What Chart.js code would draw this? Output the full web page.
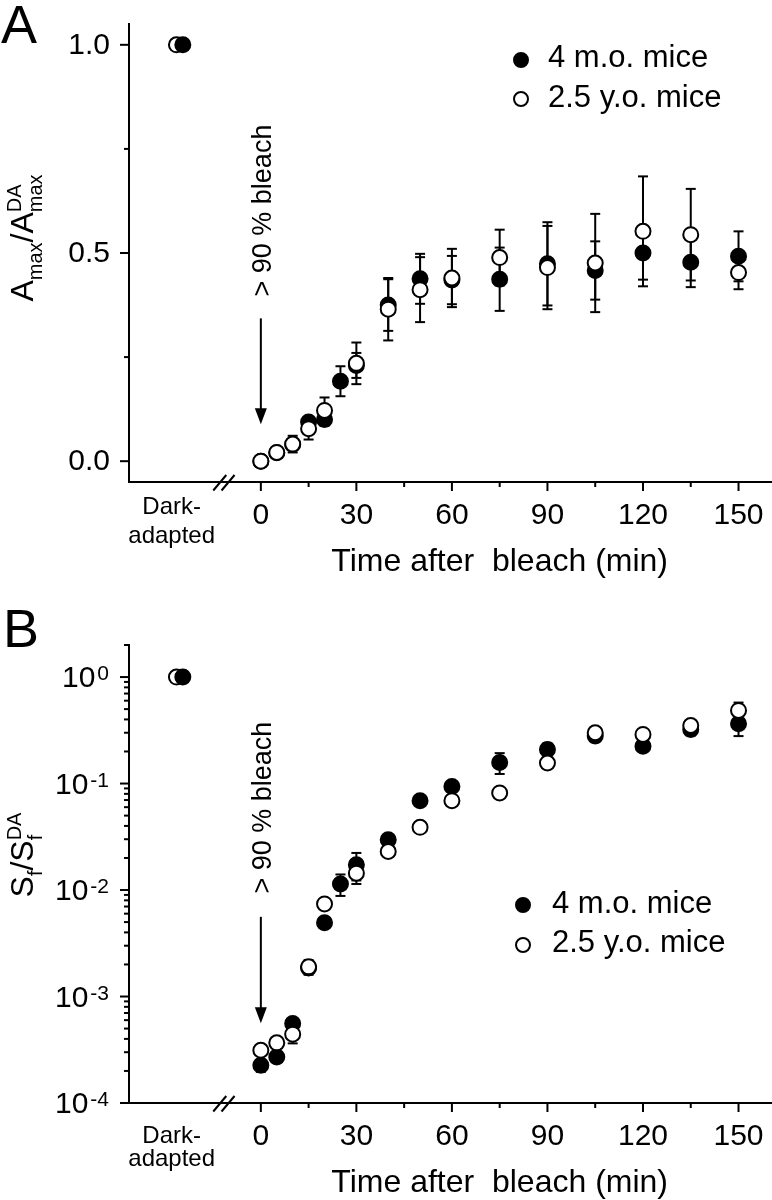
<!DOCTYPE html>
<html>
<head>
<meta charset="utf-8">
<title>Recovery of Amax and Sf after bleach</title>
<script src="https://cdn.jsdelivr.net/npm/chart.js@4.4.0/dist/chart.umd.min.js"></script>
<style>
  html, body { margin: 0; padding: 0; background: #fff; }
  canvas { display: block; }
</style>
</head>
<body>
<canvas id="panel-a" width="772" height="600"></canvas>
<canvas id="panel-b" width="772" height="600"></canvas>
<script>
// ---- data ----
const times = [0, 5, 10, 15, 20, 25, 30, 40, 50, 60, 75, 90, 105, 120, 135, 150];
const seriesNames = ['4 m.o. mice', '2.5 y.o. mice'];

// Panel A: Amax / Amax(DA), mean and SEM
const ampYoung    = [0.0, 0.02, 0.04, 0.094, 0.10, 0.192, 0.23, 0.375, 0.438, 0.435, 0.437, 0.474, 0.458, 0.50, 0.478, 0.492];
const ampYoungErr = [0.005, 0.005, 0.01, 0.01, 0.015, 0.036, 0.03, 0.062, 0.06, 0.058, 0.076, 0.10, 0.07, 0.064, 0.06, 0.06];
const ampOld      = [0.0, 0.021, 0.041, 0.078, 0.122, null, 0.235, 0.365, 0.412, 0.44, 0.489, 0.465, 0.476, 0.552, 0.544, 0.453];
const ampOldErr   = [0.005, 0.008, 0.02, 0.026, 0.031, null, 0.05, 0.075, 0.078, 0.07, 0.067, 0.10, 0.118, 0.132, 0.11, 0.04];

// Panel B: Sf / Sf(DA), mean and SEM
const sensYoung    = [2.26e-4, 2.71e-4, 5.58e-4, 1.85e-3, 4.94e-3, 1.14e-2, 1.73e-2, 2.97e-2, 6.9e-2, 9.4e-2, 0.158, 0.209, 0.28, 0.224, 0.322, 0.364];
const sensYoungErr = [0.3e-4, 0.3e-4, 0.6e-4, 0.15e-3, 0.4e-3, 0.26e-2, 0.5e-2, 0.3e-2, 0.7e-2, 1.0e-2, 0.035, 0.03, 0.035, 0.025, 0.04, 0.085];
const sensOld      = [3.13e-4, 3.67e-4, 4.43e-4, 1.9e-3, 7.4e-3, null, 1.44e-2, 2.3e-2, 3.88e-2, 6.9e-2, 0.0817, 0.156, 0.30, 0.289, 0.351, 0.486];
const sensOldErr   = [0.2e-4, 0.3e-4, 0.8e-4, 0.3e-3, 0.5e-3, null, 0.3e-2, 0.2e-2, 0.3e-2, 0.5e-2, 0.006, 0.01, 0.03, 0.02, 0.03, 0.09];

// dark-adapted reference (normalised)
const darkYoung = 1.0;
const darkOld = 1.0;

// ticks
const xTicks = [0, 30, 60, 90, 120, 150];
const xMinorTicks = [15, 45, 75, 105, 135];
const ampTicks = [0, 0.5, 1.0];
const ampMinorTicks = [0.25, 0.75];
const sensTicks = [1e-4, 1e-3, 1e-2, 1e-1, 1];

// ---- drawing helpers ----
const FAMILY = '"Liberation Sans", Arial, Helvetica, sans-serif';
const font = s => s + 'px ' + FAMILY;
const DARK_X = -25.5; // where the dark-adapted column sits on the time axis
const MARK_R = 7.5;

function line(ctx, x1, y1, x2, y2) {
    ctx.beginPath();
    ctx.moveTo(x1, y1);
    ctx.lineTo(x2, y2);
    ctx.stroke();
}

function points(xs, ys, errs) {
    return xs.map((t, i) => ({ x: t, y: ys[i], err: errs[i] })).filter(p => p.y !== null);
}

function buildDatasets(young, youngErr, old, oldErr, dY, dO) {
    const filled = { showLine: false, pointRadius: MARK_R, pointHoverRadius: MARK_R, pointBorderWidth: 2,
        pointBackgroundColor: '#000', pointBorderColor: '#000' };
    const open = { showLine: false, pointRadius: MARK_R, pointHoverRadius: MARK_R, pointBorderWidth: 2,
        pointBackgroundColor: '#fff', pointBorderColor: '#000' };
    return [
        { label: seriesNames[0] + ' (DA)', data: [{ x: DARK_X + 1, y: dY }], order: 0, ...filled },
        { label: seriesNames[1], data: points(times, old, oldErr), order: 1, ...open },
        { label: seriesNames[1] + ' (DA)', data: [{ x: DARK_X - 1, y: dO }], order: 2, ...open },
        { label: seriesNames[0], data: points(times, young, youngErr), order: 3, ...filled }
    ];
}

// error bars go under the symbols
const errorBars = {
    id: 'errorBars',
    beforeDatasetsDraw(chart) {
        const { ctx, scales: { x, y } } = chart;
        ctx.save();
        ctx.strokeStyle = '#000';
        ctx.lineWidth = 2;
        chart.data.datasets.forEach(ds => {
            ds.data.forEach(p => {
                if (!p.err) return;
                const px = x.getPixelForValue(p.x);
                const top = y.getPixelForValue(p.y + p.err);
                const bot = y.getPixelForValue(Math.max(p.y - p.err, y.min));
                line(ctx, px, top, px, bot);
                line(ctx, px - 5, top, px + 5, top);
                line(ctx, px - 5, bot, px + 5, bot);
            });
        });
        ctx.restore();
    }
};

// text with subscripts / superscripts, rotated to read upwards
function drawRotatedRich(ctx, baseX, centerY, runs) {
    const widthOf = r => {
        ctx.font = font(r.size);
        let w = ctx.measureText(r.t).width;
        if (r.sup) {
            ctx.font = font(r.supSize);
            w = Math.max(w, ctx.measureText(r.sup).width);
        }
        return w;
    };
    const total = runs.reduce((s, r) => s + widthOf(r), 0);
    ctx.save();
    ctx.translate(baseX, centerY);
    ctx.rotate(-Math.PI / 2);
    ctx.textAlign = 'left';
    ctx.textBaseline = 'alphabetic';
    let cx = -total / 2;
    runs.forEach(r => {
        const w = widthOf(r);
        ctx.font = font(r.size);
        ctx.fillText(r.t, cx, r.dy || 0);
        if (r.sup) {
            ctx.font = font(r.supSize);
            ctx.fillText(r.sup, cx, r.supDy);
        }
        cx += w;
    });
    ctx.restore();
}

function makeDecor(cfg) {
    return {
        id: 'decor',
        afterDraw(chart) {
            const { ctx, chartArea: area, scales: { x, y } } = chart;
            ctx.save();
            ctx.fillStyle = '#000';
            ctx.strokeStyle = '#000';
            ctx.lineWidth = 2;

            // panel letter
            ctx.font = font(54);
            ctx.textAlign = 'left';
            ctx.textBaseline = 'alphabetic';
            ctx.fillText(cfg.letter, cfg.letterX, cfg.letterY);

            // x axis ticks + labels
            const xb = area.bottom;
            xTicks.forEach(v => { const px = x.getPixelForValue(v); line(ctx, px, xb, px, xb + 9); });
            xMinorTicks.forEach(v => { const px = x.getPixelForValue(v); line(ctx, px, xb, px, xb + 5); });
            ctx.font = font(30);
            ctx.textAlign = 'center';
            xTicks.forEach(v => ctx.fillText(String(v), x.getPixelForValue(v), xb + 42));

            // axis break marks
            [-12.9, -10.3].forEach(v => {
                const px = x.getPixelForValue(v);
                line(ctx, px - 6.5, xb + 8.5, px + 6.5, xb - 7);
            });

            // dark-adapted column label
            ctx.font = font(24);
            const dx = x.getPixelForValue(DARK_X - 2.5);
            ctx.fillText('Dark-', dx, xb + cfg.darkDy[0]);
            ctx.fillText('adapted', dx, xb + cfg.darkDy[1]);

            // x title
            ctx.font = font(32);
            ctx.fillText('Time after  bleach (min)', x.getPixelForValue(75), xb + 89);

            // y ticks
            const yl = area.left;
            cfg.yMajor.forEach(v => { const py = y.getPixelForValue(v); line(ctx, yl - 9, py, yl, py); });
            cfg.yMinor.forEach(v => { const py = y.getPixelForValue(v); line(ctx, yl - 5, py, yl, py); });
            cfg.yMajor.forEach(v => cfg.tickLabel(ctx, v, yl - 20, y.getPixelForValue(v)));

            // y title
            drawRotatedRich(ctx, 33, cfg.yTitleY, cfg.yTitle);

            // bleach arrow and note
            const ax = x.getPixelForValue(0);
            const y0 = y.getPixelForValue(cfg.arrowFrom);
            const y1 = y.getPixelForValue(cfg.arrowTo);
            line(ctx, ax, y0, ax, y1 - 12);
            ctx.beginPath();
            ctx.moveTo(ax - 6, y1 - 16);
            ctx.lineTo(ax + 6, y1 - 16);
            ctx.lineTo(ax, y1);
            ctx.closePath();
            ctx.fill();
            ctx.save();
            ctx.translate(ax + 10.5, y.getPixelForValue(cfg.noteAt));
            ctx.rotate(-Math.PI / 2);
            ctx.font = font(27);
            ctx.textAlign = 'center';
            ctx.fillText('> 90 % bleach', 0, 0);
            ctx.restore();

            // legend
            const lg = cfg.legend;
            ctx.font = font(31);
            ctx.textAlign = 'left';
            [0, 1].forEach(i => {
                ctx.beginPath();
                ctx.arc(lg.markX, lg.markY[i], 7, 0, Math.PI * 2);
                ctx.fillStyle = i === 0 ? '#000' : '#fff';
                ctx.fill();
                ctx.stroke();
                ctx.fillStyle = '#000';
                ctx.fillText(seriesNames[i], lg.textX, lg.textY[i]);
            });
            ctx.restore();
        }
    };
}

function baseScales(yScale) {
    const axisLine = { display: true, color: '#000', width: 2 };
    return {
        x: {
            type: 'linear', min: -41.4, max: 160.2,
            grid: { display: false, drawTicks: false },
            border: axisLine,
            ticks: { display: false }
        },
        y: Object.assign({
            grid: { display: false, drawTicks: false },
            border: axisLine,
            ticks: { display: false }
        }, yScale)
    };
}

function makeChart(id, datasets, yScale, padding, decor) {
    return new Chart(document.getElementById(id), {
        type: 'scatter',
        data: { datasets },
        options: {
            responsive: false,
            animation: false,
            events: [],
            layout: { padding, autoPadding: false },
            plugins: { legend: { display: false }, tooltip: { enabled: false } },
            scales: baseScales(yScale)
        },
        plugins: [errorBars, decor]
    });
}

// ---- Panel A ----
makeChart('panel-a',
    buildDatasets(ampYoung, ampYoungErr, ampOld, ampOldErr, darkYoung, darkOld),
    { type: 'linear', min: -0.05, max: 1.05 },
    { left: 129, right: 1, top: 24, bottom: 118 },
    makeDecor({
        letter: 'A', letterX: 1, letterY: 43,
        darkDy: [32, 61],
        yMajor: ampTicks, yMinor: ampMinorTicks,
        tickLabel(ctx, v, right, py) {
            ctx.font = font(30);
            ctx.textAlign = 'right';
            ctx.fillText(v.toFixed(1), right + 1, py + 9);
        },
        yTitleY: 238,
        yTitle: [
            { t: 'A', size: 32 },
            { t: 'max', size: 20, dy: 9 },
            { t: '/A', size: 32 },
            { t: 'max', size: 20, dy: 9, sup: 'DA', supSize: 20, supDy: -12 }
        ],
        arrowFrom: 0.343, arrowTo: 0.089, noteAt: 0.602,
        legend: { markX: 521, markY: [60, 99], textX: 548, textY: [67, 107] }
    })
);

// ---- Panel B ----
const sensMinor = [];
for (let e = -4; e <= 0; e++) {
    for (let m = 2; m <= 9; m++) {
        const v = m * Math.pow(10, e);
        if (v <= 2) sensMinor.push(v);
    }
}

makeChart('panel-b',
    buildDatasets(sensYoung, sensYoungErr, sensOld, sensOldErr, darkYoung, darkOld),
    { type: 'logarithmic', min: 1e-4, max: 2 },
    { left: 129, right: 1, top: 45, bottom: 97 },
    makeDecor({
        letter: 'B', letterX: 3, letterY: 47,
        darkDy: [40, 63],
        yMajor: sensTicks, yMinor: sensMinor,
        tickLabel(ctx, v, right, py) {
            const exp = String(Math.round(Math.log10(v)));
            ctx.textAlign = 'left';
            ctx.font = font(21);
            const supW = ctx.measureText(exp).width;
            ctx.font = font(30);
            const mainW = ctx.measureText('10').width;
            const x0 = right - supW - mainW - 2;
            ctx.fillText('10', x0, py + 10);
            ctx.font = font(21);
            ctx.fillText(exp, x0 + mainW + 2, py + 3);
        },
        yTitleY: 255,
        yTitle: [
            { t: 'S', size: 32 },
            { t: 'f', size: 20, dy: 9 },
            { t: '/S', size: 32 },
            { t: 'f', size: 20, dy: 9, sup: 'DA', supSize: 20, supDy: -12 }
        ],
        arrowFrom: 5.6e-3, arrowTo: 5.6e-4, noteAt: 0.0594,
        legend: { markX: 523, markY: [305, 345], textX: 552, textY: [313, 352] }
    })
);
</script>
</body>
</html>
